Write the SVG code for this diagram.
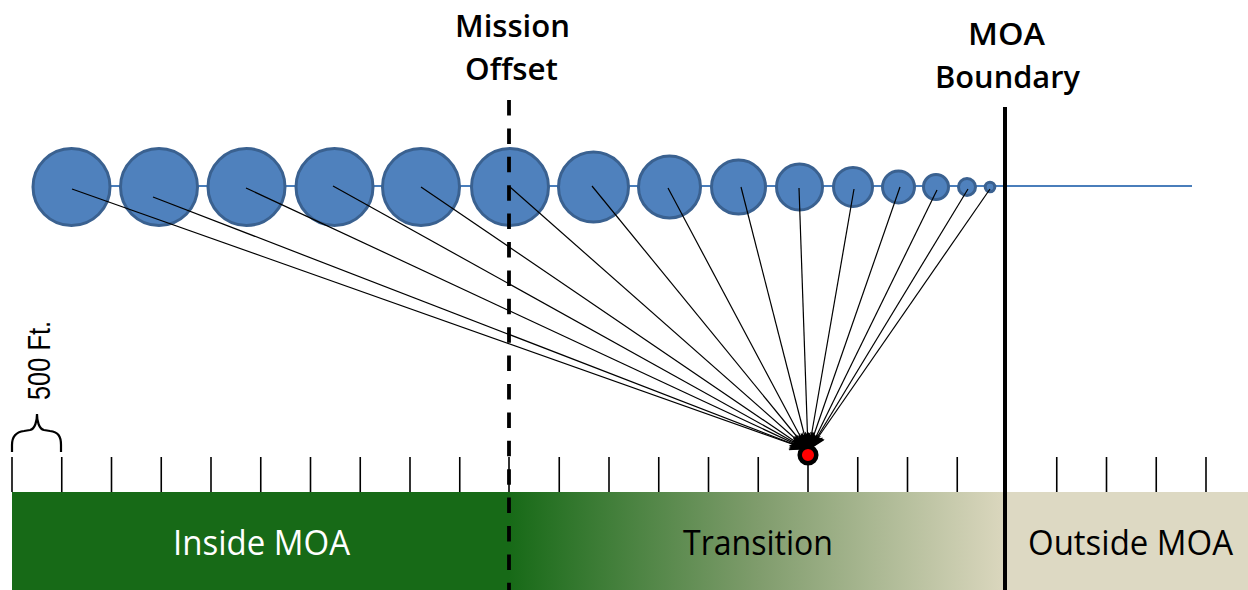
<svg xmlns="http://www.w3.org/2000/svg" width="1248" height="590" viewBox="0 0 1248 590">
  <defs>
    <linearGradient id="fade" x1="509" y1="0" x2="1005" y2="0" gradientUnits="userSpaceOnUse">
      <stop offset="0" stop-color="#176a17"/>
      <stop offset="0.5" stop-color="#7f9c6c"/>
      <stop offset="1" stop-color="#dbd7be"/>
    </linearGradient>
    <marker id="arrow" viewBox="0 0 12 10" refX="11.5" refY="5" markerWidth="20" markerHeight="14" orient="auto" markerUnits="userSpaceOnUse">
      <path d="M0,0 L12,5 L0,10 L3,5 z" fill="#000"/>
    </marker>
    <style>
      .pos { fill: #4f81bd; stroke: #3a6190; stroke-width: 3; }
      .ray { stroke: #000; stroke-width: 1.2; fill: none; marker-end: url(#arrow); }
      .tick { stroke: #000; stroke-width: 1.6; }
      .title { font-family: "Open Sans", "Liberation Sans", sans-serif; font-weight: 600; font-size: 31px; fill: #000; text-anchor: middle; }
      .zone { font-family: "Open Sans", "Liberation Sans", sans-serif; font-size: 34px; text-anchor: middle; }
    </style>
  </defs>

  <rect width="1248" height="590" fill="#fff"/>

  <!-- ground zones -->
  <g id="zones">
    <rect x="12" y="492" width="498" height="98" fill="#176a17"/>
    <rect x="509" y="492" width="497" height="98" fill="url(#fade)"/>
    <rect x="1005" y="492" width="243" height="98" fill="#ddd9c3"/>
    <text class="zone" x="261.5" y="555" fill="#fff" textLength="177" lengthAdjust="spacingAndGlyphs">Inside MOA</text>
    <text class="zone" x="758" y="555" fill="#000" textLength="150" lengthAdjust="spacingAndGlyphs">Transition</text>
    <text class="zone" x="1130.5" y="555" fill="#000" textLength="205" lengthAdjust="spacingAndGlyphs">Outside MOA</text>
  </g>

  <!-- 500 ft scale ticks -->
  <g id="ticks">
    <line class="tick" x1="12" y1="457" x2="12" y2="492"/>
    <line class="tick" x1="61.75" y1="457" x2="61.75" y2="492"/>
    <line class="tick" x1="111.5" y1="457" x2="111.5" y2="492"/>
    <line class="tick" x1="161.25" y1="457" x2="161.25" y2="492"/>
    <line class="tick" x1="211" y1="457" x2="211" y2="492"/>
    <line class="tick" x1="260.75" y1="457" x2="260.75" y2="492"/>
    <line class="tick" x1="310.5" y1="457" x2="310.5" y2="492"/>
    <line class="tick" x1="360.25" y1="457" x2="360.25" y2="492"/>
    <line class="tick" x1="410" y1="457" x2="410" y2="492"/>
    <line class="tick" x1="459.75" y1="457" x2="459.75" y2="492"/>
    <line class="tick" x1="509" y1="457" x2="509" y2="492"/>
    <line class="tick" x1="559.25" y1="457" x2="559.25" y2="492"/>
    <line class="tick" x1="609" y1="457" x2="609" y2="492"/>
    <line class="tick" x1="658.75" y1="457" x2="658.75" y2="492"/>
    <line class="tick" x1="708.5" y1="457" x2="708.5" y2="492"/>
    <line class="tick" x1="758.25" y1="457" x2="758.25" y2="492"/>
    <line class="tick" x1="808" y1="457" x2="808" y2="492"/>
    <line class="tick" x1="857.75" y1="457" x2="857.75" y2="492"/>
    <line class="tick" x1="907.5" y1="457" x2="907.5" y2="492"/>
    <line class="tick" x1="957.25" y1="457" x2="957.25" y2="492"/>
    <line class="tick" x1="1056.75" y1="457" x2="1056.75" y2="492"/>
    <line class="tick" x1="1106.5" y1="457" x2="1106.5" y2="492"/>
    <line class="tick" x1="1156.25" y1="457" x2="1156.25" y2="492"/>
    <line class="tick" x1="1206" y1="457" x2="1206" y2="492"/>
  </g>

  <!-- scale brace -->
  <g id="scale">
    <path d="M12,452 L12,445 C12,436 16,432 24,431 L30,430 C35,429 37,421 37,414 C37,421 39,429 44,430 L50,431 C58,432 61,436 61,445 L61,452" fill="none" stroke="#000" stroke-width="2.2"/>
    <text transform="translate(50,400) rotate(-90) scale(1,1.22)" font-family="Liberation Sans, sans-serif" font-size="25" fill="#000" textLength="79" lengthAdjust="spacingAndGlyphs">500 Ft.</text>
  </g>

  <!-- flight track -->
  <line id="track" x1="72" y1="186" x2="1192" y2="186" stroke="#4a7ebb" stroke-width="2.2"/>

  <!-- aircraft positions -->
  <g id="p1"><circle class="pos" cx="71.5" cy="187" r="38.5"/></g>
  <g id="p2"><circle class="pos" cx="159" cy="187" r="38.5"/></g>
  <g id="p3"><circle class="pos" cx="246.5" cy="187" r="38.5"/></g>
  <g id="p4"><circle class="pos" cx="334.5" cy="187" r="38.5"/></g>
  <g id="p5"><circle class="pos" cx="421" cy="187" r="38.5"/></g>
  <g id="p6"><circle class="pos" cx="510" cy="187" r="38.5"/></g>
  <g id="p7"><circle class="pos" cx="593.5" cy="187" r="35"/></g>
  <g id="p8"><circle class="pos" cx="669.5" cy="187" r="31"/></g>
  <g id="p9"><circle class="pos" cx="738.5" cy="187" r="27"/></g>
  <g id="p10"><circle class="pos" cx="799.5" cy="187" r="23"/></g>
  <g id="p11"><circle class="pos" cx="853" cy="187" r="19.5"/></g>
  <g id="p12"><circle class="pos" cx="898.5" cy="187" r="16"/></g>
  <g id="p13"><circle class="pos" cx="936" cy="187" r="12.5"/></g>
  <g id="p14"><circle class="pos" cx="967" cy="187" r="8.5"/></g>
  <g id="p15"><circle class="pos" cx="990" cy="187" r="4.8"/></g>

  <!-- sight lines to the ground point -->
  <g id="connectors">
    <line class="ray" x1="72" y1="189" x2="806" y2="449"/>
    <line class="ray" x1="153" y1="197" x2="806" y2="449"/>
    <line class="ray" x1="246" y1="188" x2="806" y2="449"/>
    <line class="ray" x1="333" y1="186" x2="806" y2="449"/>
    <line class="ray" x1="421" y1="187" x2="806" y2="449"/>
    <line class="ray" x1="510" y1="187" x2="807" y2="449"/>
    <line class="ray" x1="592" y1="186" x2="807" y2="449"/>
    <line class="ray" x1="668" y1="188" x2="807" y2="449"/>
    <line class="ray" x1="741" y1="187" x2="808" y2="449"/>
    <line class="ray" x1="799" y1="188" x2="808" y2="449"/>
    <line class="ray" x1="854" y1="189" x2="809" y2="449"/>
    <line class="ray" x1="900" y1="187" x2="809" y2="449"/>
    <line class="ray" x1="937" y1="190" x2="810" y2="449"/>
    <line class="ray" x1="968" y1="189" x2="810" y2="449"/>
    <line class="ray" x1="990" y1="189" x2="810" y2="449"/>
  </g>

  <!-- ground point -->
  <g id="target">
    <circle cx="808" cy="455" r="8.3" fill="#f00" stroke="#000" stroke-width="4.5"/>
  </g>

  <!-- mission offset marker -->
  <g id="mission-offset">
    <line x1="509" y1="100" x2="509" y2="590" stroke="#000" stroke-width="3.8" stroke-dasharray="15.5 12.9"/>
    <text class="title" x="512.5" y="37" textLength="115" lengthAdjust="spacingAndGlyphs">Mission</text>
    <text class="title" x="511.5" y="80" textLength="93" lengthAdjust="spacingAndGlyphs">Offset</text>
  </g>

  <!-- MOA boundary marker -->
  <g id="moa-boundary">
    <line x1="1005" y1="107" x2="1005" y2="590" stroke="#000" stroke-width="4"/>
    <text class="title" x="1006.5" y="45" textLength="77" lengthAdjust="spacingAndGlyphs">MOA</text>
    <text class="title" x="1007.5" y="88" textLength="145" lengthAdjust="spacingAndGlyphs">Boundary</text>
  </g>
</svg>
